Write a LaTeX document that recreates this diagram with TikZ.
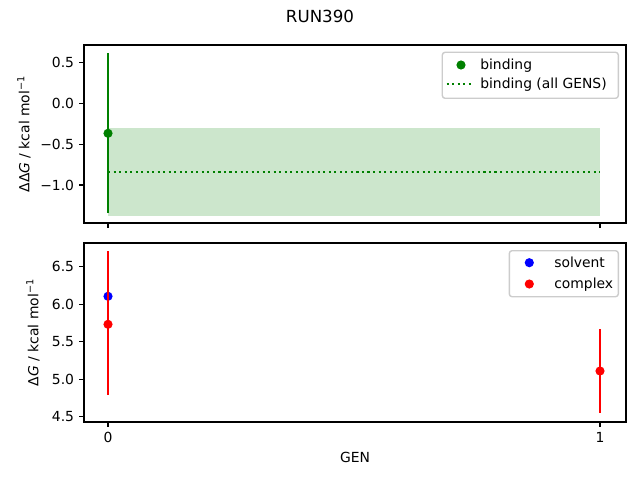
\documentclass[tikz,border=0pt]{standalone}
\usepackage{fontspec}
\setmainfont{DejaVu Sans}
\definecolor{mplgreen}{RGB}{0,128,0}
\definecolor{mplfill}{RGB}{204,230,204}
\definecolor{mplblue}{RGB}{0,0,255}
\definecolor{mplred}{RGB}{255,0,0}
\begin{document}
\begin{tikzpicture}[
x=0.72pt, y=-0.72pt,
font=\fontsize{10}{12}\selectfont,
axbox/.style={draw, line width=0.8pt},
ticklen/.style={line width=0.8pt},
ticklab/.style={inner sep=0pt},
errbar/.style={line width=1.5pt},
dot/.style={circle, inner sep=0pt, minimum size=6.6pt},
legbox/.style={draw=black!20, fill=white, fill opacity=0.8, draw opacity=1,
  rounded corners=2pt, line width=1pt},
legtext/.style={inner sep=0pt, anchor=base west}
]
\useasboundingbox (0,0) rectangle (640,480);
% title
\node[font=\fontsize{12}{14}\selectfont] (title) at (320,16) {RUN390};

% upper panel: binding
\fill[mplfill] (108,128.3) rectangle (600,215.7);
\coordinate (avgl) at (108,172);
\coordinate (avgr) at (600,172);
\draw[mplgreen, line width=1.5pt, dash pattern=on 1.5pt off 2.475pt] (avgl) -- (avgr);
\coordinate (bt) at (108,53.3);
\coordinate (bb) at (108,212.7);
\draw[mplgreen, errbar] (bt) -- (bb);
\node[dot, fill=mplgreen] (b0) at (108,133.3) {};
\draw[axbox] (84,45) rectangle (626,223);
\foreach \Y/\Lab in {62.3/0.5, 103.2/0.0, 144.1/−0.5, 185/−1.0}
  {\draw[ticklen] (84,\Y) -- ++(-4.86,0);
   \node[ticklab, anchor=east] at (74.3,\Y) {\Lab};}
\foreach \X in {108,600}
  \draw[ticklen] (\X,223) -- ++(0,4.86);
\node[rotate=90] (ylabtop) at (24,134) {ΔΔ\textit{G} / kcal mol\textsuperscript{−1}};
% legend upper
\path[legbox] (442.3,52.3) rectangle (618.3,98.3);
\node[dot, fill=mplgreen] (lgb) at (461,65) {};
\node[legtext] (lgbt) at (480,69.5) {binding};
\coordinate (lgdl) at (446.7,84.3);
\coordinate (lgdr) at (471,84.3);
\draw[mplgreen, line width=1.5pt, dash pattern=on 1.5pt off 2.475pt] (lgdl) -- (lgdr);
\node[legtext] (lgdt) at (480,88.8) {binding (all GENS)};

% lower panel: solvent and complex
\node[dot, fill=mplblue] (s0) at (108,296.3) {};
\coordinate (c0t) at (108,251);
\coordinate (c0b) at (108,395.3);
\draw[mplred, errbar] (c0t) -- (c0b);
\node[dot, fill=mplred] (c0) at (108,324.3) {};
\coordinate (c1t) at (600,329.3);
\coordinate (c1b) at (600,413.3);
\draw[mplred, errbar] (c1t) -- (c1b);
\node[dot, fill=mplred] (c1) at (600,371) {};
\draw[axbox] (84,243) rectangle (626,422);
\foreach \Y/\Lab in {266.7/6.5, 304.2/6.0, 341.7/5.5, 379.2/5.0, 416.7/4.5}
  {\draw[ticklen] (84,\Y) -- ++(-4.86,0);
   \node[ticklab, anchor=east] at (74.3,\Y) {\Lab};}
\foreach \X/\Lab in {108/0, 600/1}
  {\draw[ticklen] (\X,422) -- ++(0,4.86);
   \node[ticklab, anchor=north] at (\X,431.7) {\Lab};}
\node[rotate=90] (ylabbot) at (33,332.5) {Δ\textit{G} / kcal mol\textsuperscript{−1}};
\node (xlab) at (355,457) {GEN};
% legend lower
\path[legbox] (509.3,250.7) rectangle (618.3,296.7);
\node[dot, fill=mplblue] (lgs) at (529.3,262.7) {};
\node[legtext] (lgst) at (554,267.2) {solvent};
\node[dot, fill=mplred] (lgc) at (529.3,284) {};
\node[legtext] (lgct) at (554,288.5) {complex};
\end{tikzpicture}
\end{document}
